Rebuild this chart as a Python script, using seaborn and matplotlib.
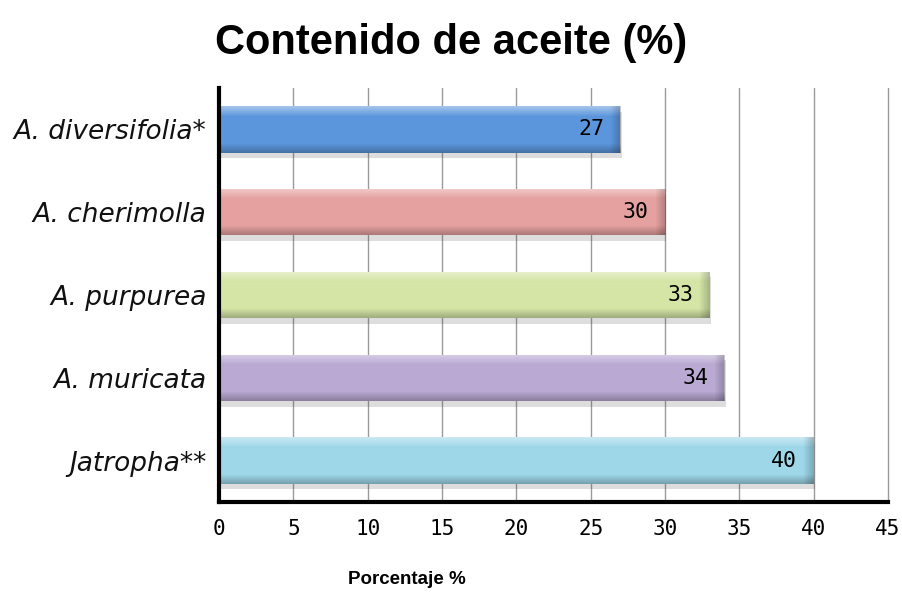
import matplotlib
matplotlib.use("Agg")
import matplotlib.pyplot as plt
import matplotlib.patheffects as pe
import numpy as np
import pandas as pd
import seaborn as sns

species = ["A. diversifolia*", "A. cherimolla", "A. purpurea", "A. muricata", "Jatropha**"]
oil_pct = [27, 30, 33, 34, 40]
bar_colors = ["#5B96DC", "#E5A1A0", "#D4E5A6", "#B9A9D3", "#9DD7E8"]
x_ticks = [0, 5, 10, 15, 20, 25, 30, 35, 40, 45]

df = pd.DataFrame({"species": species, "oil": oil_pct})

sns.set_theme(style="white")
plt.rcParams["font.family"] = ["Liberation Sans", "DejaVu Sans"]
plt.rcParams["text.color"] = "black"

fig = plt.figure(figsize=(9.02, 5.94), dpi=100)
ax = fig.add_axes([219 / 902, 1 - 502 / 594, (888 - 219) / 902, (502 - 88) / 594])

sns.barplot(data=df, y="species", x="oil", hue="species", palette=bar_colors,
            orient="h", width=0.56, legend=False, ax=ax, saturation=1)

ax.set_xlim(0, 45)
ax.set_ylim(4.5, -0.5)
ax.set_xticks(x_ticks)
ax.set_xticklabels([str(t) for t in x_ticks], fontsize=15, family="DejaVu Sans Mono",
                   color="black")
ax.tick_params(axis="x", length=0, pad=12)
ax.tick_params(axis="y", length=0, pad=9)
for lab in ax.get_yticklabels():
    lab.set_fontstyle("italic")
    lab.set_fontsize(19)
    lab.set_family("DejaVu Sans")
    lab.set_color("#111111")
ax.set_xlabel("")
ax.set_ylabel("")

ax.grid(axis="x", color="#9a9a9a", linewidth=1.0)
for gl in ax.get_xgridlines():
    gl.set_clip_on(False)
ax.set_axisbelow(True)
for side in ["top", "right"]:
    ax.spines[side].set_visible(False)
for side in ["left", "bottom"]:
    ax.spines[side].set_color("black")
    ax.spines[side].set_linewidth(3)

# shaded bevel on each bar, plus a soft drop shadow
grad = np.linspace(0, 1, 64)
for patch, val in zip(ax.patches, oil_pct):
    patch.set_edgecolor("none")
    patch.set_path_effects([pe.SimplePatchShadow(offset=(1, -4), alpha=0.18, shadow_rgbFace="#444444"),
                            pe.Normal()])
    x0, y0 = patch.get_x(), patch.get_y()
    w, h = patch.get_width(), patch.get_height()
    z = patch.get_zorder()

    # light band along the top edge, darker band along the bottom edge
    rgba = np.zeros((64, 1, 4))
    top = np.clip(1 - grad / 0.22, 0, 1)
    bot = np.clip((grad - 0.8) / 0.2, 0, 1)
    rgba[:, 0, :3] = np.where(top[:, None] > 0, 1.0, 0.0)
    rgba[:, 0, 3] = top * 0.45 + bot * 0.25
    img = ax.imshow(rgba, extent=(x0, x0 + w, y0 + h, y0), aspect="auto",
                    interpolation="bilinear", zorder=z + 0.1)
    img.set_clip_path(patch)

    # darker bevel at the bar's end
    end = np.zeros((1, 32, 4))
    end[0, :, 3] = np.linspace(0, 0.22, 32)
    img2 = ax.imshow(end, extent=(x0 + w - 0.7, x0 + w, y0 + h, y0), aspect="auto",
                     interpolation="bilinear", zorder=z + 0.2)
    img2.set_clip_path(patch)

    ax.text(val - 1.1, y0 + h / 2, str(val), ha="right", va="center",
            fontsize=15.5, family="DejaVu Sans Mono", color="black", zorder=5)

ax.set_xlim(0, 45)
ax.set_ylim(4.5, -0.5)

fig.text(451 / 902, 1 - 43 / 594, "Contenido de aceite (%)", ha="center", va="center",
         fontsize=30, fontweight="bold", color="black")
fig.text(407 / 902, 1 - 579 / 594, "Porcentaje %", ha="center", va="center",
         fontsize=13.5, fontweight="bold", color="black")

fig.savefig("out.png", dpi=100)
